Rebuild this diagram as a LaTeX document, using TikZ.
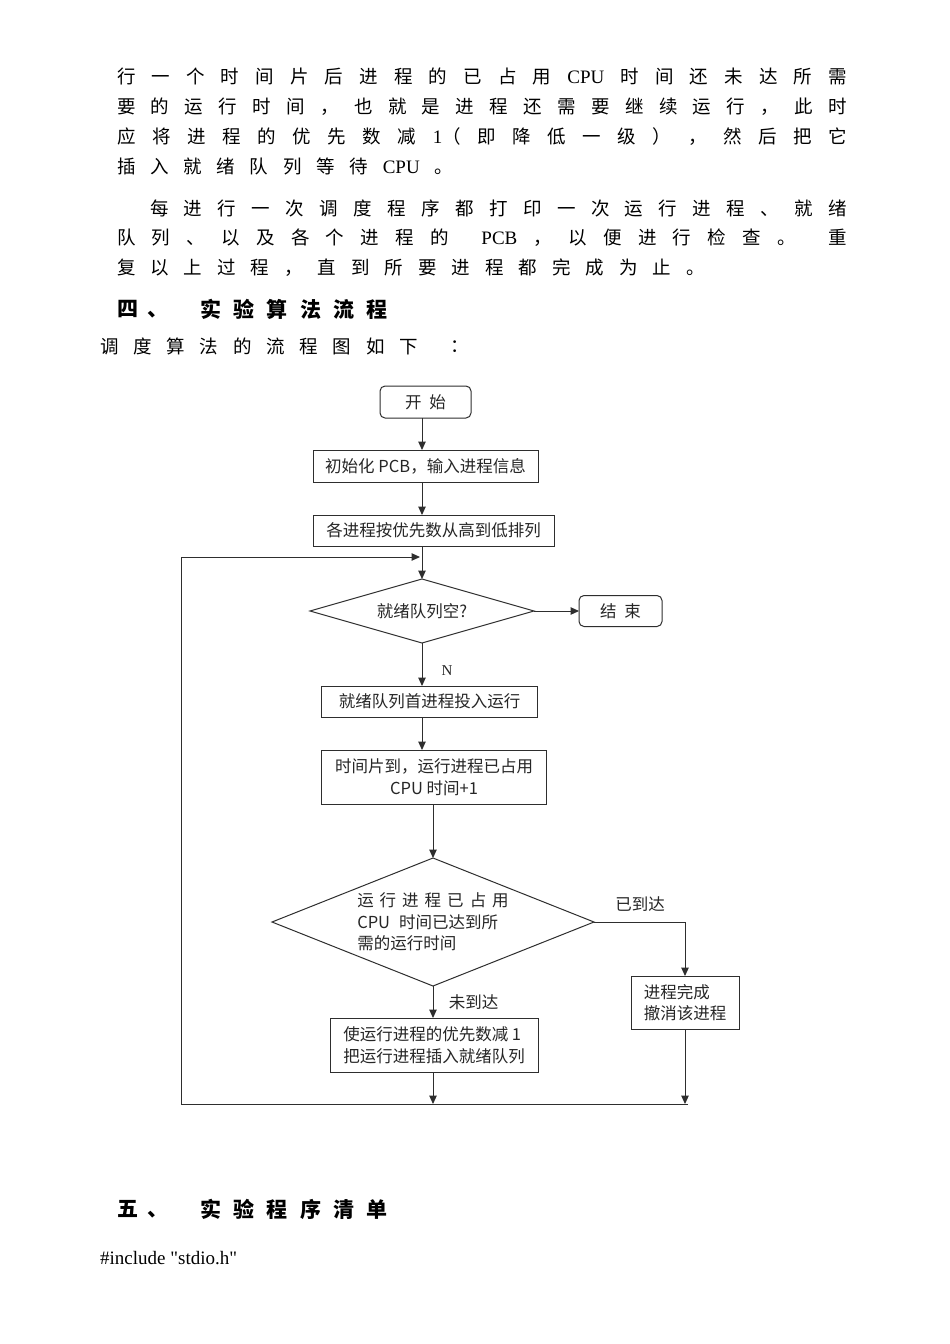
\documentclass[tikz,border=0pt]{standalone}
\usepackage{fontspec}
\setmainfont{Liberation Serif}
\newfontfamily\plainserif{Liberation Serif}[Ligatures=TeXOff]
\newfontfamily\cjk{Noto Sans CJK SC}
\usetikzlibrary{shapes.geometric,arrows.meta}
\definecolor{linec}{HTML}{2E2E2E}
\definecolor{txtc}{HTML}{262626}
\newcommand\latn[1]{{\rmfamily\fontsize{19}{20}\selectfont #1}}
\tikzset{
  para/.style={anchor=west, inner sep=0pt, outer sep=0pt, text=black,
    font=\cjk\fontsize{18.5}{22}\selectfont},
  headtxt/.style={anchor=west, inner sep=0pt, outer sep=0pt, text=black,
    font=\cjk\bfseries\fontsize{21}{24}\selectfont},
  fc/.style={font=\cjk\fontsize{16.5}{21.5}\selectfont, text=txtc},
  proc/.style={draw=linec, line width=1pt, inner sep=0pt, outer sep=0pt, fc},
  term/.style={proc, rounded corners=5pt},
  dia/.style={draw=linec, line width=1pt, diamond, inner sep=0pt, outer sep=0pt, fc},
  arr/.style={draw=linec, line width=1pt, -{Triangle[length=8.5pt,width=7.5pt]}},
  ln/.style={draw=linec, line width=1pt},
  lbl/.style={inner sep=0pt, fc},
}
\begin{document}
\begin{tikzpicture}[x=1pt,y=-1pt]
\useasboundingbox (0,0) rectangle (950,1344);
\fill[white] (0,0) rectangle (950,1344);

% ---- paragraph text ----
\node[para] (p1) at (117,76.5) {\makebox[730pt][s]{行 一 个 时 间 片 后 进 程 的 已 占 用 \latn{CPU} 时 间 还 未 达 所 需}};
\node[para] (p2) at (117,106.5) {\makebox[730pt][s]{要 的 运 行 时 间 ， 也 就 是 进 程 还 需 要 继 续 运 行 ， 此 时}};
\node[para] (p3) at (117,136.5) {\makebox[730pt][s]{应 将 进 程 的 优 先 数 减 \latn{1}（ 即 降 低 一 级 ） ， 然 后 把 它}};
\node[para] (p4) at (117,166.5) {\makebox[336pt][s]{插 入 就 绪 队 列 等 待 \latn{CPU} 。}};
\node[para] (p5) at (150,208.5) {\makebox[697pt][s]{每 进 行 一 次 调 度 程 序 都 打 印 一 次 运 行 进 程 、 就 绪}};
\node[para] (p6) at (117,238) {\makebox[730pt][s]{队 列 、 以 及 各 个 进 程 的 \ \latn{PCB} ， 以 便 进 行 检 查 。 \ 重}};
\node[para] (p7) at (117,268) {\makebox[588pt][s]{复 以 上 过 程 ， 直 到 所 要 进 程 都 完 成 为 止 。}};

\node[headtxt] (h4a) at (117,309) {\makebox[52pt][s]{四 、}};
\node[headtxt] (h4b) at (200,309) {\makebox[188pt][s]{实 验 算 法 流 程}};

\node[para] (p8) at (100,346.5) {\makebox[318pt][s]{调 度 算 法 的 流 程 图 如 下}};
\node[para] (p8c) at (450,346.5) {：};

% ---- flowchart ----
\node[term, minimum width=91pt, minimum height=32pt] (start) at (425.5,402) {开\hspace{8pt}始};
\node[proc, minimum width=225pt, minimum height=32pt] (b2) at (425.5,466) {初始化 PCB，输入进程信息};
\node[proc, minimum width=241pt, minimum height=31pt] (b3) at (433.5,530.5) {各进程按优先数从高到低排列};
\node[dia, minimum width=224pt, minimum height=64pt, aspect=3.5] (d1) at (422,611) {就绪队列空?};
\node[term, minimum width=83pt, minimum height=31pt] (end) at (620.5,611) {结\hspace{8pt}束};
\node[proc, minimum width=216pt, minimum height=31pt] (b4) at (429.5,701.5) {就绪队列首进程投入运行};
\node[proc, minimum width=225pt, minimum height=54pt, align=center] (b5) at (434,777) {时间片到，运行进程已占用\\CPU 时间+1};
\node[dia, minimum width=322pt, minimum height=128pt, aspect=2.5, align=left] (d2) at (433,922)
  {运\hspace{6pt}行\hspace{6pt}进\hspace{6pt}程\hspace{6pt}已\hspace{6pt}占\hspace{6pt}用\\CPU\hspace{9pt}时间已达到所\\需的运行时间};
\node[proc, minimum width=108pt, minimum height=53pt, align=left] (b6) at (685,1002.5) {进程完成\\撤消该进程};
\node[proc, minimum width=208pt, minimum height=54pt, align=left] (b7) at (434,1045) {使运行进程的优先数减 1\\把运行进程插入就绪队列};

\node[lbl, font=\rmfamily\fontsize{15}{16}\selectfont, text=txtc] (lN) at (447,671) {N};
\node[lbl] (lyes) at (640,904) {已到达};
\node[lbl] (lno) at (473.5,1002) {未到达};

\coordinate (bl) at (181,1104);
\coordinate (br) at (688,1104);
\coordinate (tl) at (181,557);
\coordinate (tj) at (420,557);

\draw[arr] (start.south -| d1.north) -- (b2.north -| d1.north);
\draw[arr] (b2.south -| d1.north) -- (b3.north -| d1.north);
\draw[arr] (b3.south -| d1.north) -- (d1.north);
\draw[arr] (d1.east) -- (end.west);
\draw[arr] (d1.south) -- (b4.north -| d1.south);
\draw[arr] (b4.south -| d1.south) -- (b5.north -| d1.south);
\draw[arr] (b5.south -| d2.north) -- (d2.north);
\draw[arr] (d2.south) -- (b7.north -| d2.south);
\draw[arr] (d2.east) -| (b6.north);
\draw[arr] (b7.south -| d2.south) -- (bl -| d2.south);
\draw[arr] (b6.south) -- (b6.south |- bl);
\draw[ln] (br) -- (bl) -- (tl);
\draw[arr] (tl) -- (tj);

% ---- section five ----
\node[headtxt] (h5a) at (117,1209) {\makebox[52pt][s]{五 、}};
\node[headtxt] (h5b) at (200,1209) {\makebox[188pt][s]{实 验 程 序 清 单}};
\node[anchor=west, inner sep=0pt, font=\plainserif\fontsize{19}{20}\selectfont, text=black] (inc) at (100,1258) {\#include "stdio.h"};
\end{tikzpicture}
\end{document}
